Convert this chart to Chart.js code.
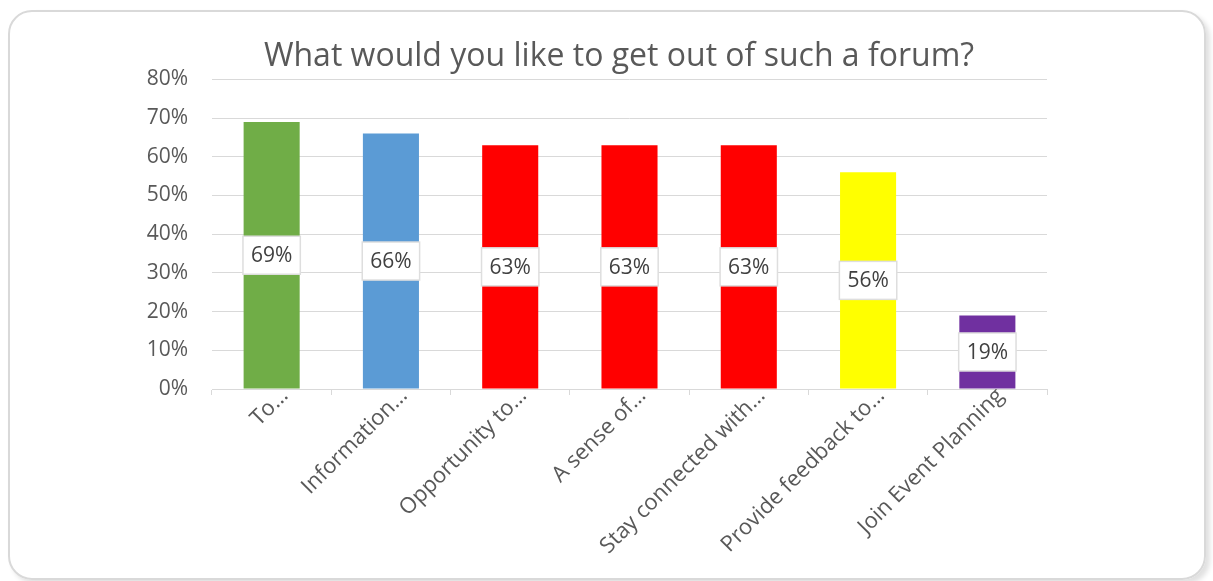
<!DOCTYPE html>
<html>
<head>
<meta charset="utf-8">
<script src="https://cdn.jsdelivr.net/npm/chart.js@4/dist/chart.umd.min.js"></script>
<style>
  html, body { margin: 0; padding: 0; background: #fff; overflow: hidden; }
  #frame {
    position: absolute; left: 8px; top: 10px; width: 1194px; height: 566px;
    border: 2px solid #d9d9d9; border-radius: 24px;
    box-shadow: 4px 4px 5px rgba(0, 0, 0, 0.12);
  }
  #chart { position: absolute; left: 0; top: 0; }
</style>
</head>
<body>
<div id="frame"></div>
<canvas id="chart" width="1213" height="581"></canvas>
<script>
const categories = [
    'To…',
    'Information…',
    'Opportunity to…',
    'A sense of…',
    'Stay connected with…',
    'Provide feedback to…',
    'Join Event Planning'
];
const values = [69, 66, 63, 63, 63, 56, 19];
const barColors = ['#70AD47', '#5B9BD5', '#FF0000', '#FF0000', '#FF0000', '#FFFF00', '#7030A0'];
const yTicks = [0, 10, 20, 30, 40, 50, 60, 70, 80];

const FONT = '"Open Sans", "Noto Sans", sans-serif';
const GRID = '#d9d9d9';

// white value boxes in the middle of each bar
const barLabels = {
    id: 'barLabels',
    afterDatasetsDraw(chart) {
        const ctx = chart.ctx;
        const meta = chart.getDatasetMeta(0);
        ctx.save();
        ctx.font = '21px ' + FONT;
        ctx.textAlign = 'center';
        ctx.textBaseline = 'middle';
        meta.data.forEach((bar, i) => {
            const text = values[i] + '%';
            const w = ctx.measureText(text).width + 16;
            const h = 38;
            const cy = (bar.y + bar.base) / 2;
            ctx.fillStyle = '#fff';
            ctx.fillRect(bar.x - w / 2, cy - h / 2, w, h);
            ctx.strokeStyle = '#dedede';
            ctx.lineWidth = 1.5;
            ctx.strokeRect(bar.x - w / 2, cy - h / 2, w, h);
            ctx.fillStyle = '#404040';
            ctx.fillText(text, bar.x, cy + 1);
        });
        ctx.restore();
    }
};

new Chart(document.getElementById('chart'), {
    type: 'bar',
    data: {
        labels: categories,
        datasets: [{
            data: values,
            backgroundColor: barColors,
            borderWidth: 0,
            categoryPercentage: 1,
            barPercentage: 0.47
        }]
    },
    options: {
        responsive: false,
        animation: false,
        layout: { padding: { top: 10, left: 140, right: 115, bottom: 0 } },
        plugins: {
            legend: { display: false },
            tooltip: { enabled: false },
            title: {
                display: true,
                text: 'What would you like to get out of such a forum?',
                color: '#595959',
                font: { family: FONT, size: 32, weight: 'normal' },
                padding: { top: 28, bottom: 3 }
            }
        },
        scales: {
            x: {
                grid: { offset: true, drawOnChartArea: false, color: GRID, tickLength: 6 },
                border: { color: GRID, width: 1 },
                ticks: {
                    color: '#595959',
                    font: { family: FONT, size: 22 },
                    minRotation: 45,
                    maxRotation: 45,
                    autoSkip: false,
                    padding: -12,
                    labelOffset: 13
                },
                afterFit(scale) { scale.height = 192; }
            },
            y: {
                min: 0,
                max: 80,
                grid: { color: GRID, lineWidth: 1, drawTicks: false },
                border: { display: false },
                afterBuildTicks(scale) { scale.ticks = yTicks.map(v => ({ value: v })); },
                ticks: {
                    color: '#595959',
                    font: { family: FONT, size: 21 },
                    padding: 24,
                    callback: v => v + '%'
                },
                afterFit(scale) { scale.width = 72; }
            },
            // empty right-hand gutter so the title sits a little left of the plot centre
            gutter: {
                type: 'linear',
                position: 'right',
                grid: { display: false },
                border: { display: false },
                ticks: { display: false },
                afterFit(scale) { scale.width = 51; }
            }
        }
    },
    plugins: [barLabels]
});
</script>
</body>
</html>
